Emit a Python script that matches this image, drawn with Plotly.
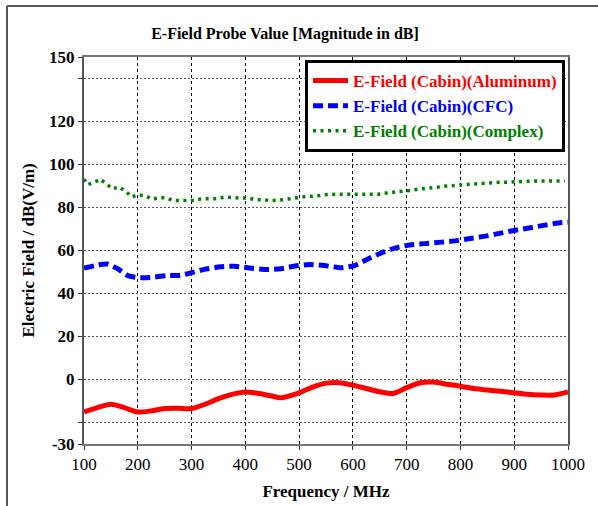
import plotly.graph_objects as go

# ---- data ----
alu_x = [100, 125, 150, 175, 200, 225, 250, 275, 300, 325, 350, 375, 400, 425, 450, 465,
         500, 525, 550, 575, 600, 625, 650, 675, 700, 725, 750, 775, 800, 825, 850, 875,
         900, 925, 950, 975, 1000]
alu_y = [-15.1, -13.1, -11.5, -13.1, -15.1, -14.6, -13.5, -13.4, -13.5, -11.5, -8.9, -6.9,
         -5.8, -6.5, -7.7, -8.5, -6.2, -3.5, -1.7, -1.5, -2.6, -4.2, -5.7, -6.5, -3.8, -1.5,
         -1.2, -2.2, -3.1, -4.2, -4.9, -5.5, -6.2, -6.9, -7.2, -7.2, -5.8]

cfc_x = [100, 131, 143, 162, 183, 200, 223, 254, 279, 300, 323, 354, 379, 404, 435, 466,
         491, 519, 547, 578, 603, 628, 653, 678, 706, 734, 765, 793, 821, 849, 877, 902,
         930, 957, 988, 1000]
cfc_y = [51.8, 53.5, 53.7, 51.6, 48.2, 47.4, 47.5, 48.3, 48.5, 49.7, 51.2, 52.4, 52.7, 52.0,
         51.2, 51.5, 52.7, 53.5, 53.0, 52.0, 53.0, 56.1, 58.9, 61.1, 62.6, 63.2, 63.9, 64.6,
         65.7, 66.8, 68.2, 69.4, 70.6, 71.8, 73.0, 73.2]

cpx_x = [100, 107, 119, 130, 142, 153, 165, 178, 188, 200, 214, 226, 240, 252, 265, 279,
         293, 306, 319, 333, 348, 362, 376, 391, 404, 418, 432, 447, 460, 474, 488, 502,
         516, 532, 545, 560, 574, 589, 603, 617, 632, 647, 662, 676, 690, 705, 718, 732,
         747, 762, 775, 789, 803, 817, 832, 845, 861, 875, 890, 904, 919, 934, 948, 962,
         976, 994]
cpx_y = [93.2, 90.6, 91.7, 93.2, 90.9, 88.7, 89.5, 87.5, 84.9, 85.8, 85.5, 83.9, 84.5, 84.5,
         83.3, 83.5, 83.3, 83.3, 84.1, 84.1, 84.1, 84.9, 84.5, 84.4, 84.5, 83.6, 83.6, 83.2,
         83.3, 83.8, 84.1, 84.5, 85.2, 85.3, 85.9, 86.1, 86.2, 86.2, 86.2, 86.2, 86.2, 86.2,
         86.7, 87.0, 87.3, 87.9, 88.4, 88.9, 89.2, 89.6, 90.0, 90.3, 90.6, 90.9, 91.0, 91.2,
         91.7, 91.8, 91.8, 92.0, 92.3, 92.3, 92.3, 92.3, 92.3, 92.3]

x_ticks = [100, 200, 300, 400, 500, 600, 700, 800, 900, 1000]
y_tickvals = [-30, -20, 0, 20, 40, 60, 80, 100, 120, 140, 150]
y_ticktext = ["-30", "", "0", "20", "40", "60", "80", "100", "120", "", "150"]

FONT = "Liberation Serif"
PW, PH = 484, 387  # plot area in px

fig = go.Figure()
fig.add_trace(go.Scatter(
    x=alu_x, y=alu_y, mode="lines",
    name="<b><span style='color:#ff0000'>E-Field (Cabin)(Aluminum)</span></b>",
    line=dict(color="#ff0000", width=5, shape="spline", smoothing=0.8)))
fig.add_trace(go.Scatter(
    x=cfc_x, y=cfc_y, mode="lines",
    name="<b><span style='color:#0000ff'>E-Field (Cabin)(CFC)</span></b>",
    line=dict(color="#0000ff", width=5, dash="10px,5px", shape="spline", smoothing=0.6)))
fig.add_trace(go.Scatter(
    x=cpx_x, y=cpx_y, mode="lines",
    name="<b><span style='color:#008000'>E-Field (Cabin)(Complex)</span></b>",
    line=dict(color="#008000", width=3.5, dash="3px,4.5px")))

fig.update_layout(
    width=598, height=506,
    margin=dict(l=84, r=30, t=57, b=62, autoexpand=False),
    paper_bgcolor="white", plot_bgcolor="white",
    font=dict(family=FONT, size=17, color="black"),
    title=dict(text="<b>E-Field Probe Value [Magnitude in dB]</b>",
               x=285 / 598, xanchor="center", y=1 - 33 / 506, yanchor="middle",
               font=dict(family=FONT, size=16, color="black")),
    showlegend=True,
    legend=dict(x=(565 - 84) / PW, xanchor="right", y=1 - 3 / PH, yanchor="top",
                bgcolor="white", bordercolor="black", borderwidth=3,
                font=dict(family=FONT, size=17), tracegroupgap=0,
                itemwidth=35),
    xaxis=dict(range=[100, 1000], tickvals=x_ticks, tickangle=0,
               showgrid=True, gridcolor="black", griddash="3px,3px", gridwidth=1,
               showline=True, linecolor="#777777", linewidth=2, mirror=True,
               ticks="outside", ticklen=4, tickcolor="#333333",
               tickfont=dict(family=FONT, size=17, color="black"),
               tickprefix="<b>", ticksuffix="</b>",
               title=dict(text="<b>Frequency / MHz</b>", standoff=12,
                          font=dict(family=FONT, size=17)),
               zeroline=False),
    yaxis=dict(range=[-30, 150], tickvals=y_tickvals, ticktext=["<b>" + t + "</b>" for t in y_ticktext],
               showgrid=True, gridcolor="#555555", griddash="2px,2px", gridwidth=1,
               showline=True, linecolor="#555555", linewidth=2, mirror=True,
               ticks="outside", ticklen=4, tickcolor="#333333",
               tickfont=dict(family=FONT, size=17, color="black"),
               zeroline=False),
    annotations=[
        dict(text="<b>Electric Field / dB(V/m)</b>", textangle=-90,
             xref="paper", yref="paper", x=(28 - 84) / PW, y=0.5,
             xanchor="center", yanchor="middle", showarrow=False,
             font=dict(family=FONT, size=17, color="black")),
    ],
    shapes=[
        dict(type="line", xref="paper", yref="paper",
             x0=(7 - 84) / PW, x1=(598 - 84) / PW, y0=1 + (57 - 6) / PH, y1=1 + (57 - 6) / PH,
             line=dict(color="#555555", width=2)),
        dict(type="line", xref="paper", yref="paper",
             x0=(7 - 84) / PW, x1=(7 - 84) / PW, y0=1 + (57 - 6) / PH, y1=-(506 - 444) / PH,
             line=dict(color="#555555", width=2)),
    ],
)

fig.write_html("out.html")
